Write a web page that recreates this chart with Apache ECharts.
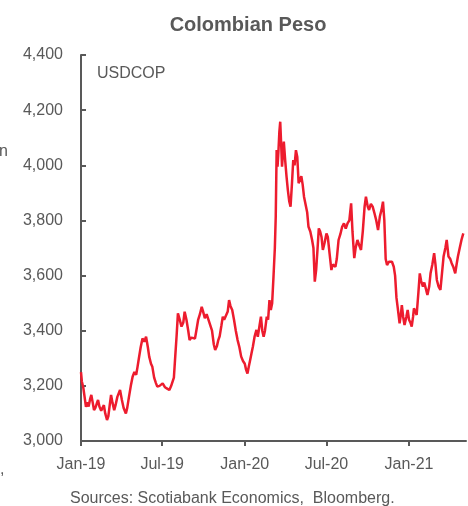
<!DOCTYPE html>
<html>
<head>
<meta charset="utf-8">
<script src="https://cdn.jsdelivr.net/npm/echarts@6/dist/echarts.min.js"></script>
<style>html,body{margin:0;padding:0;background:#fff}#c{width:468px;height:506px}</style>
</head>
<body>
<div id="c"></div>
<script>
var chartTitle = 'Colombian Peso';
var seriesName = 'USDCOP';
var sourceText = 'Sources: Scotiabank Economics,  Bloomberg.';
var xTickDates = ['2019-01-01', '2019-07-01', '2020-01-01', '2020-07-01', '2021-01-01'];
var xTickLabels = ['Jan-19', 'Jul-19', 'Jan-20', 'Jul-20', 'Jan-21'];
var xStart = '2019-01-01';
var xEnd = '2021-05-08';
var yTicks = [3000, 3200, 3400, 3600, 3800, 4000, 4200, 4400];

var dates = [
'2019-01-01','2019-01-03','2019-01-06','2019-01-09','2019-01-12','2019-01-15','2019-01-18','2019-01-21','2019-01-24','2019-01-27','2019-01-30',
'2019-02-02','2019-02-05','2019-02-08','2019-02-11','2019-02-15','2019-02-18','2019-02-21','2019-02-24','2019-02-28',
'2019-03-03','2019-03-06','2019-03-09','2019-03-12','2019-03-16','2019-03-19','2019-03-23','2019-03-29',
'2019-04-02','2019-04-06','2019-04-11','2019-04-14','2019-04-18','2019-04-22','2019-04-26','2019-04-30',
'2019-05-04','2019-05-07','2019-05-10','2019-05-14','2019-05-18','2019-05-22','2019-05-26','2019-05-30',
'2019-06-02','2019-06-06','2019-06-09','2019-06-13','2019-06-17','2019-06-20','2019-06-25',
'2019-07-02','2019-07-07','2019-07-12','2019-07-17','2019-07-21','2019-07-24','2019-07-27','2019-07-30',
'2019-08-02','2019-08-05','2019-08-09','2019-08-13','2019-08-17','2019-08-20','2019-08-24','2019-08-28','2019-08-31',
'2019-09-04','2019-09-08','2019-09-12','2019-09-15','2019-09-19','2019-09-23','2019-09-27','2019-09-30',
'2019-10-04','2019-10-08','2019-10-12','2019-10-16','2019-10-20','2019-10-24','2019-10-27','2019-10-31',
'2019-11-03','2019-11-06','2019-11-10','2019-11-13','2019-11-16','2019-11-20','2019-11-24','2019-11-27','2019-11-30',
'2019-12-04','2019-12-08','2019-12-12','2019-12-16','2019-12-20','2019-12-24','2019-12-28',
'2020-01-01','2020-01-04','2020-01-07','2020-01-10','2020-01-13','2020-01-16','2020-01-19','2020-01-23','2020-01-27','2020-01-30',
'2020-02-03','2020-02-06','2020-02-09','2020-02-12','2020-02-15','2020-02-19','2020-02-22','2020-02-25','2020-02-28',
'2020-03-02','2020-03-05','2020-03-08','2020-03-10','2020-03-12','2020-03-14','2020-03-16','2020-03-18','2020-03-20','2020-03-22','2020-03-24','2020-03-26','2020-03-28','2020-03-31',
'2020-04-03','2020-04-06','2020-04-09','2020-04-12','2020-04-15','2020-04-18','2020-04-21','2020-04-24','2020-04-27','2020-04-30',
'2020-05-03','2020-05-06','2020-05-09','2020-05-12','2020-05-15','2020-05-19','2020-05-22','2020-05-26','2020-05-30',
'2020-06-02','2020-06-05','2020-06-08','2020-06-11','2020-06-14','2020-06-17','2020-06-20','2020-06-23','2020-06-27',
'2020-07-01','2020-07-04','2020-07-08','2020-07-12','2020-07-15','2020-07-18','2020-07-21','2020-07-24','2020-07-28',
'2020-08-01','2020-08-05','2020-08-09','2020-08-13','2020-08-17','2020-08-21','2020-08-25','2020-08-28',
'2020-09-01','2020-09-04','2020-09-08','2020-09-12','2020-09-16','2020-09-20','2020-09-24','2020-09-27',
'2020-10-01','2020-10-04','2020-10-08','2020-10-12','2020-10-16','2020-10-20','2020-10-24','2020-10-28',
'2020-11-01','2020-11-04','2020-11-07','2020-11-10','2020-11-13','2020-11-17','2020-11-21','2020-11-24','2020-11-28',
'2020-12-01','2020-12-04','2020-12-07','2020-12-11','2020-12-14','2020-12-16','2020-12-19','2020-12-22','2020-12-26','2020-12-29',
'2021-01-01','2021-01-04','2021-01-07','2021-01-10','2021-01-12','2021-01-15','2021-01-18','2021-01-22','2021-01-25','2021-01-28',
'2021-02-01','2021-02-04','2021-02-08','2021-02-11','2021-02-15','2021-02-18','2021-02-22','2021-02-26',
'2021-03-01','2021-03-04','2021-03-08','2021-03-12','2021-03-15','2021-03-19','2021-03-23','2021-03-26','2021-03-30',
'2021-04-03','2021-04-06','2021-04-10','2021-04-14','2021-04-17','2021-04-20','2021-04-24','2021-04-28','2021-05-02'
];

var values = [
3250,3215,3195,3160,3124,3140,3125,3150,3167,3140,3112,
3120,3135,3149,3125,3110,3106,3130,3100,3076,
3090,3130,3167,3140,3112,3130,3160,3185,
3150,3120,3100,3120,3161,3200,3233,3250,
3240,3269,3300,3340,3372,3360,3378,3340,
3306,3280,3269,3230,3210,3197,3200,
3209,3195,3190,3185,3200,3197,3230,3306,
3380,3463,3440,3415,3430,3469,3440,3400,3366,
3375,3370,3372,3400,3439,3460,3487,3470,
3445,3460,3440,3439,3400,3350,3330,3345,
3366,3380,3420,3451,3440,3439,3470,3511,3490,
3475,3440,3400,3366,3340,3306,3290,
3280,3258,3245,3270,3294,3318,3342,3380,3403,3378,
3420,3451,3400,3378,3400,3451,3440,3511,3475,
3500,3596,3700,3814,4055,3995,4050,4120,4158,4080,3995,4040,4086,4019,
3960,3910,3870,3850,3930,4019,4000,4055,4030,3935,
3947,3960,3930,3886,3880,3830,3777,3760,3729,
3700,3578,3620,3693,3771,3760,3740,3693,3720,
3753,3740,3680,3620,3640,3645,3632,3660,3729,
3750,3777,3789,3770,3789,3800,3862,3760,
3663,3700,3729,3710,3693,3760,3850,3886,
3850,3838,3860,3850,3826,3800,3765,3814,
3840,3868,3800,3660,3638,3650,3655,3650,3632,
3600,3520,3481,3427,3460,3493,3450,3421,3450,3475,
3440,3430,3415,3450,3481,3470,3457,3540,3608,3580,
3560,3575,3572,3530,3560,3608,3640,3681,
3640,3584,3560,3548,3600,3669,3700,3729,3669,
3660,3645,3630,3608,3640,3669,3700,3730,3753
];

var DAY = 86400000;
function dayNum(s) {
  var p = s.split('-');
  return Math.round((Date.UTC(+p[0], +p[1] - 1, +p[2]) - Date.UTC(2019, 0, 1)) / DAY);
}
var lineData = dates.map(function (d, i) { return [dayNum(d), values[i]]; });
var xTickValues = xTickDates.map(dayNum);
var textColor = '#595959';
var fontFam = '"Liberation Sans", Arial, sans-serif';

var chart = echarts.init(document.getElementById('c'), null, {renderer: 'canvas'});
chart.setOption({
  animation: false,
  backgroundColor: '#ffffff',
  title: {
    text: chartTitle,
    left: 243, top: 10, textAlign: 'center',
    textStyle: {color: textColor, fontSize: 20, fontWeight: 'bold', fontFamily: fontFam}
  },
  grid: {left: 81, right: 2, top: 55, bottom: 65, containLabel: false, outerBoundsMode: 'none'},
  xAxis: {
    type: 'value',
    min: dayNum(xStart),
    max: dayNum(xEnd),
    axisLine: {show: true, lineStyle: {color: textColor, width: 2}},
    axisTick: {show: true, inside: false, length: 5, customValues: xTickValues, lineStyle: {color: textColor, width: 2}},
    splitLine: {show: false},
    axisLabel: {
      color: textColor, fontSize: 16, fontFamily: fontFam, margin: 16,
      customValues: xTickValues,
      formatter: function (v) {
        var i = xTickValues.indexOf(v);
        return i >= 0 ? xTickLabels[i] : '';
      }
    }
  },
  yAxis: {
    type: 'value',
    min: yTicks[0], max: yTicks[yTicks.length - 1], interval: 200,
    axisLine: {show: true, lineStyle: {color: textColor, width: 2}},
    axisTick: {show: true, inside: true, length: 5, lineStyle: {color: textColor, width: 2}},
    splitLine: {show: false},
    axisLabel: {
      color: textColor, fontSize: 16, fontFamily: fontFam, margin: 18,
      padding: [5, 0, 0, 0],
      formatter: function (v) { return v.toLocaleString('en-US'); }
    }
  },
  graphic: [
    {type: 'text', left: 97, top: 66, style: {text: seriesName, fill: textColor, font: '16px ' + fontFam}},
    {type: 'text', left: 70, top: 491, style: {text: sourceText, fill: textColor, font: '16px ' + fontFam}},
    {type: 'text', left: -1, top: 144, style: {text: 'n', fill: textColor, font: '16px ' + fontFam}},
    {type: 'text', left: 0, top: 462, style: {text: ',', fill: textColor, font: '16px ' + fontFam}}
  ],
  series: [{
    name: seriesName,
    type: 'line',
    data: lineData,
    showSymbol: false,
    symbol: 'none',
    lineStyle: {color: '#ED1C2E', width: 2.5},
    z: 3
  }]
});
</script>
</body>
</html>
